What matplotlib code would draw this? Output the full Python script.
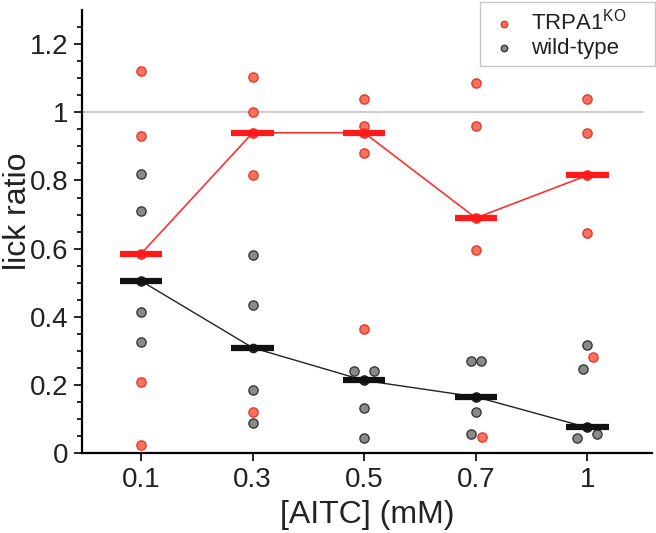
import matplotlib
matplotlib.use("Agg")
import matplotlib.pyplot as plt
import numpy as np

plt.rcParams['font.family'] = ['Liberation Sans', 'DejaVu Sans']

# AITC concentrations (mM)
conc = ["0.1", "0.3", "0.5", "0.7", "1"]

# TRPA1 knockout lick ratios per concentration
koValues = [[1.12, 0.93, 0.585, 0.21, 0.025],
            [1.105, 1.0, 0.94, 0.815, 0.12],
            [1.04, 0.96, 0.94, 0.88, 0.365],
            [1.085, 0.96, 0.69, 0.595, 0.048],
            [1.04, 0.94, 0.815, 0.645, 0.283]]
koMedian = [0.585, 0.94, 0.94, 0.69, 0.815]

# wild-type lick ratios per concentration
wtValues = [[0.82, 0.71, 0.505, 0.415, 0.325],
            [0.58, 0.435, 0.185, 0.087],
            [0.24, 0.24, 0.213, 0.132, 0.043],
            [0.27, 0.27, 0.165, 0.12, 0.056],
            [0.316, 0.246, 0.075, 0.056, 0.044]]
wtMedian = [0.505, 0.309, 0.213, 0.165, 0.075]

# small sideways shifts so overlapping dots stay visible
koJitter = [[0, 0, 0, 0, 0], [0, 0, 0, 0, 0], [0, 0, 0, 0, 0],
            [0, 0, 0, 0, 0.055], [0, 0, 0, 0, 0.055]]
wtJitter = [[0, 0, 0, 0, 0], [0, 0, 0, 0], [-0.09, 0.09, 0, 0, 0],
            [-0.045, 0.045, 0, 0, -0.045], [0, -0.036, 0, 0.085, -0.09]]

redFace = "#f7735f"
redEdge = "#e8382a"
greyFace = "#8a8a8a"
greyEdge = "#383838"
textCol = "#222222"

fig = plt.figure(figsize=(6.56, 5.33), dpi=100)
ax = fig.add_axes([0.125, 0.15, 0.869, 0.831])

xs = np.arange(len(conc))

ax.axhline(1, xmin=0, xmax=0.984, color="#c8c8c8", lw=1.3, zorder=1)

for i in xs:
    ax.scatter(i + np.array(koJitter[i]), koValues[i], s=44, color=redFace,
               edgecolors=redEdge, linewidths=1.0, zorder=3,
               label=r"TRPA1$^{\mathregular{KO}}$" if i == 0 else None)
    ax.scatter(i + np.array(wtJitter[i]), wtValues[i], s=44, color=greyFace,
               edgecolors=greyEdge, linewidths=1.0, zorder=3,
               label="wild-type" if i == 0 else None)

ax.plot(xs, koMedian, '-o', color="#ff3030", lw=1.2, ms=6, zorder=4)
ax.plot(xs, wtMedian, '-o', color="#222222", lw=1.0, ms=6, zorder=4)
ax.hlines(koMedian, xs - 0.19, xs + 0.19, color="#ff1a1a", lw=4.5, zorder=5)
ax.hlines(wtMedian, xs - 0.19, xs + 0.19, color="#111111", lw=4.5, zorder=5)

ax.set_xlim(-0.53, 4.58)
ax.set_ylim(0, 1.3)
ax.set_xticks(xs)
ax.set_xticklabels(conc)
ax.set_yticks([0, 0.2, 0.4, 0.6, 0.8, 1.0, 1.2])
ax.set_yticklabels(["0", "0.2", "0.4", "0.6", "0.8", "1", "1.2"])
ax.set_yticks(np.arange(0, 1.3, 0.05), minor=True)

ax.spines['top'].set_visible(False)
ax.spines['right'].set_visible(False)
ax.spines['left'].set_linewidth(1.6)
ax.spines['bottom'].set_linewidth(1.6)
ax.tick_params(axis='both', which='major', direction='out', length=6, width=1.4,
               labelsize=20, colors=textCol, pad=4)
ax.tick_params(axis='y', which='minor', direction='out', length=3.5, width=1.2)

ax.set_xlabel("[AITC] (mM)", fontsize=23, color=textCol, labelpad=5)
ax.set_ylabel("lick ratio", fontsize=23, color=textCol)
ax.yaxis.set_label_coords(-0.086, 0.546)

leg = ax.legend(loc="upper left", fontsize=16, frameon=True, fancybox=False,
                edgecolor="#bbbbbb", handletextpad=0.4, borderpad=0.3,
                labelspacing=0.15, markerscale=0.7, handlelength=1.6,
                bbox_to_anchor=(0.698, 0.887, 0.307, 0.131), mode="expand",
                borderaxespad=0)
leg.get_frame().set_linewidth(1.0)
for t in leg.get_texts():
    t.set_color(textCol)

fig.savefig("out.png", dpi=100)
